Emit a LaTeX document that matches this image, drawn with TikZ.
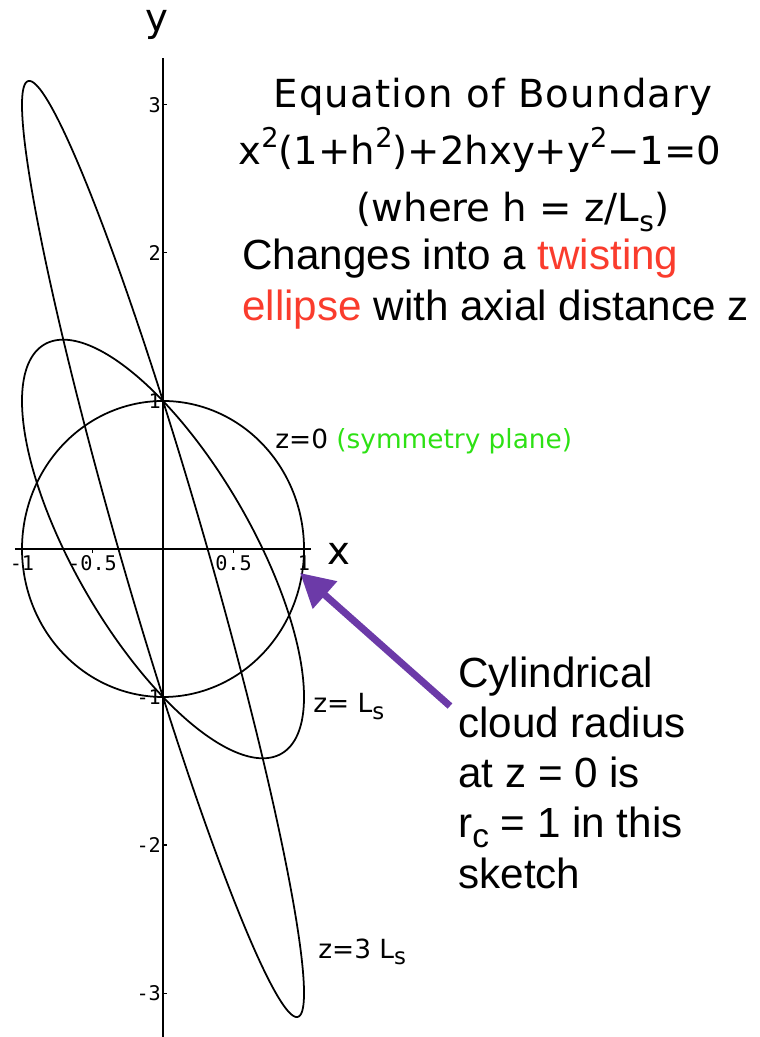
\documentclass[tikz,border=0pt]{standalone}
\usepackage{fontspec}
\setmainfont{Liberation Sans}
\newfontfamily\lucida{DejaVu Sans}
\newfontfamily\lucidawide[LetterSpace=3]{DejaVu Sans}
\newfontfamily\monofnt{DejaVu Sans Mono}
\usetikzlibrary{arrows.meta, positioning, calc}
\definecolor{arrowpurple}{RGB}{108, 58, 168}
\definecolor{twistred}{RGB}{250, 60, 45}
\definecolor{planegreen}{RGB}{45, 225, 20}
\newcommand{\supr}[1]{\raisebox{0.46em}{\fontsize{15.5}{15.5}\selectfont #1}}
\newcommand{\subr}[2]{\raisebox{-0.24em}{\fontsize{#1}{#1}\selectfont #2}}
\tikzset{
  axis/.style={line width=1.1pt, black},
  curve/.style={line width=1pt, black},
  tickmark/.style={line width=0.6pt, black},
  ticklabel/.style={font=\monofnt\fontsize{11.5}{11.5}\selectfont, inner sep=1pt},
  axislabel/.style={font=\lucida\fontsize{22}{22}\selectfont, inner sep=0pt},
  eqtext/.style={font=\lucida\fontsize{22}{22}\selectfont, inner sep=0pt, anchor=base},
  zlabel/.style={font=\lucida\fontsize{15}{15}\selectfont, inner sep=0pt, anchor=base west},
  note/.style={font=\fontsize{24}{28.6}\selectfont, align=left, inner sep=0pt, anchor=base west},
  pointer/.style={arrowpurple, line width=4pt, -{Triangle[length=19pt, width=20pt]}}
}

\begin{document}
\begin{tikzpicture}[x=2.82cm, y=2.96cm]
  \useasboundingbox (-1.156,-3.297) rectangle (4.227,3.709);
  \draw[axis] (-1.05,0) -- (1.05,0);
  \draw[axis] (0,-3.3) -- (0,3.32);
  \foreach \t/\lab [count=\i] in {-1/-1, -0.5/-0.5, 0.5/0.5, 1/1}
    \draw[tickmark] (\t,0) -- ++(0,-0.03) node[ticklabel, anchor=north] (xt\i) {\lab};
  \foreach \t [count=\i] in {-3,-2,-1,1,2,3} {
    \draw[tickmark] (0,\t) -- ++(0.025,0);
    \node[ticklabel, anchor=east] (yt\i) at (0,\t) {\t};
  }
  \node[axislabel] (ylab) at (-0.04,3.54) {y};
  \node[axislabel] (xlab) at (1.248,-0.034) {x};

  \foreach \h in {0,1,3}
    \draw[curve] plot[domain=0:360, samples=240, smooth] ({cos(\x)}, {sin(\x)-\h*cos(\x)});

  \node[eqtext, font=\lucidawide\fontsize{22}{22}\selectfont] (title) at (2.34,2.986) {Equation of Boundary};
  \node[eqtext] (eqn) at (2.248,2.595) {x\supr{2}(1+h\supr{2})+2hxy+y\supr{2}−1=0};
  \node[eqtext] (where) at (2.482,2.21) {(where h = z/L\subr{16}{s})};
  \node[note] (twist) at (0.560,1.547) {Changes into a \textcolor{twistred}{twisting}\\\textcolor{twistred}{ellipse} with axial distance z};

  \node[zlabel] (zzero) at (0.794,0.682) {z=0 \textcolor{planegreen}{(symmetry plane)}};
  \node[zlabel] (zone) at (1.064,-1.108) {z= L\subr{13}{s}};
  \node[zlabel] (zthree) at (1.099,-2.764) {z=3 L\subr{13}{s}};

  \node[note] (cyl) at (2.092,-2.291) {Cylindrical\\cloud radius\\at z = 0 is\\r\subr{19}{c} = 1 in this\\sketch};
  \coordinate (rc) at (0.972,-0.162);
  \coordinate (tail) at (2.035,-1.061);
  \draw[pointer] (tail) -- (rc);
\end{tikzpicture}
\end{document}
